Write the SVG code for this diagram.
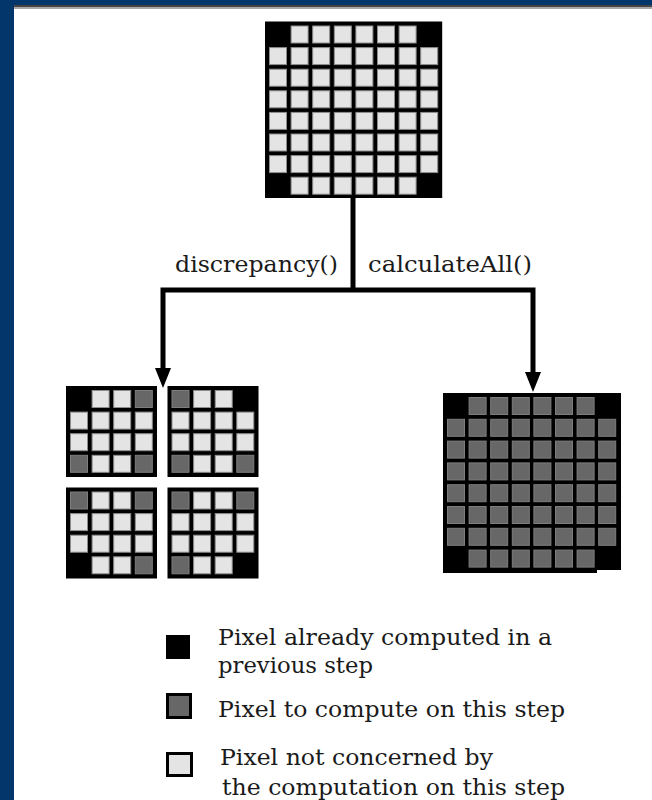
<svg xmlns="http://www.w3.org/2000/svg" xmlns:xlink="http://www.w3.org/1999/xlink" width="652" height="800" viewBox="0 0 652 800">
  <style>
    .lt { fill: #e4e4e4; stroke: #8c8c8c; stroke-width: 1; }
    .gy { fill: #676767; stroke: #7e7e7e; stroke-width: 1; }
    .bk { fill: #000; }
    .lbl { font-size: 23px; fill: #1a1a1a; }
    .wire { fill: none; stroke: #000; stroke-width: 5; stroke-linejoin: miter; }
  </style>
  <defs>
    <rect id="lc" x="0.5" y="0.5" width="17" height="17" class="lt"/>
    <rect id="gc" x="0.5" y="0.5" width="17" height="17" class="gy"/>
    <!-- full rows of eight cells, and edge rows without the corner cells -->
    <g id="lrow8">
      <use xlink:href="#lc" x="4"/><use xlink:href="#lc" x="25.6"/><use xlink:href="#lc" x="47.2"/><use xlink:href="#lc" x="68.8"/>
      <use xlink:href="#lc" x="90.4"/><use xlink:href="#lc" x="112"/><use xlink:href="#lc" x="133.6"/><use xlink:href="#lc" x="155.2"/>
    </g>
    <g id="lrow6">
      <use xlink:href="#lc" x="25.6"/><use xlink:href="#lc" x="47.2"/><use xlink:href="#lc" x="68.8"/>
      <use xlink:href="#lc" x="90.4"/><use xlink:href="#lc" x="112"/><use xlink:href="#lc" x="133.6"/>
    </g>
    <g id="grow8">
      <use xlink:href="#gc" x="4"/><use xlink:href="#gc" x="25.6"/><use xlink:href="#gc" x="47.2"/><use xlink:href="#gc" x="68.8"/>
      <use xlink:href="#gc" x="90.4"/><use xlink:href="#gc" x="112"/><use xlink:href="#gc" x="133.6"/><use xlink:href="#gc" x="155.2"/>
    </g>
    <g id="grow6">
      <use xlink:href="#gc" x="25.6"/><use xlink:href="#gc" x="47.2"/><use xlink:href="#gc" x="68.8"/>
      <use xlink:href="#gc" x="90.4"/><use xlink:href="#gc" x="112"/><use xlink:href="#gc" x="133.6"/>
    </g>
    <!-- middle rows of the 4x4 blocks -->
    <g id="lrow4">
      <use xlink:href="#lc" x="4"/><use xlink:href="#lc" x="25.6"/><use xlink:href="#lc" x="47.2"/><use xlink:href="#lc" x="68.8"/>
    </g>
    <marker id="head" markerUnits="userSpaceOnUse" markerWidth="20" markerHeight="16" refX="0" refY="8" orient="auto">
      <path d="M0,0 L20,8 L0,16 z" fill="#000"/>
    </marker>
  </defs>

  <!-- page frame -->
  <rect width="652" height="800" fill="#fff"/>
  <rect x="0" y="0" width="652" height="5" fill="#03366a"/>
  <rect x="14" y="5" width="638" height="2" fill="#444"/>
  <rect x="14" y="7" width="638" height="2" fill="#a8a8a8"/>
  <rect x="0" y="0" width="14" height="800" fill="#03366a"/>

  <!-- source image: 8x8 grid, corners already known -->
  <g id="grid-source" transform="translate(265,21.5)">
    <rect width="177.2" height="176.5" class="bk"/>
    <use xlink:href="#lrow6" y="4"/>
    <use xlink:href="#lrow8" y="25.6"/>
    <use xlink:href="#lrow8" y="47.2"/>
    <use xlink:href="#lrow8" y="68.8"/>
    <use xlink:href="#lrow8" y="90.4"/>
    <use xlink:href="#lrow8" y="112"/>
    <use xlink:href="#lrow8" y="133.6"/>
    <use xlink:href="#lrow6" y="155.2"/>
  </g>

  <!-- discrepancy(): four 4x4 blocks -->
  <g id="block-top-left" transform="translate(66,386)">
    <rect width="91" height="91" class="bk"/>
    <use xlink:href="#lc" x="25.6" y="4"/><use xlink:href="#lc" x="47.2" y="4"/><use xlink:href="#gc" x="68.8" y="4"/>
    <use xlink:href="#lrow4" y="25.6"/>
    <use xlink:href="#lrow4" y="47.2"/>
    <use xlink:href="#gc" x="4" y="68.8"/><use xlink:href="#lc" x="25.6" y="68.8"/><use xlink:href="#lc" x="47.2" y="68.8"/><use xlink:href="#gc" x="68.8" y="68.8"/>
  </g>
  <g id="block-top-right" transform="translate(167.5,386)">
    <rect width="91" height="91" class="bk"/>
    <use xlink:href="#gc" x="4" y="4"/><use xlink:href="#lc" x="25.6" y="4"/><use xlink:href="#lc" x="47.2" y="4"/>
    <use xlink:href="#lrow4" y="25.6"/>
    <use xlink:href="#lrow4" y="47.2"/>
    <use xlink:href="#gc" x="4" y="68.8"/><use xlink:href="#lc" x="25.6" y="68.8"/><use xlink:href="#lc" x="47.2" y="68.8"/><use xlink:href="#gc" x="68.8" y="68.8"/>
  </g>
  <g id="block-bottom-left" transform="translate(66,487.5)">
    <rect width="91" height="91" class="bk"/>
    <use xlink:href="#gc" x="4" y="4"/><use xlink:href="#lc" x="25.6" y="4"/><use xlink:href="#lc" x="47.2" y="4"/><use xlink:href="#gc" x="68.8" y="4"/>
    <use xlink:href="#lrow4" y="25.6"/>
    <use xlink:href="#lrow4" y="47.2"/>
    <use xlink:href="#lc" x="25.6" y="68.8"/><use xlink:href="#lc" x="47.2" y="68.8"/><use xlink:href="#gc" x="68.8" y="68.8"/>
  </g>
  <g id="block-bottom-right" transform="translate(167.5,487.5)">
    <rect width="91" height="91" class="bk"/>
    <use xlink:href="#gc" x="4" y="4"/><use xlink:href="#lc" x="25.6" y="4"/><use xlink:href="#lc" x="47.2" y="4"/><use xlink:href="#gc" x="68.8" y="4"/>
    <use xlink:href="#lrow4" y="25.6"/>
    <use xlink:href="#lrow4" y="47.2"/>
    <use xlink:href="#gc" x="4" y="68.8"/><use xlink:href="#lc" x="25.6" y="68.8"/><use xlink:href="#lc" x="47.2" y="68.8"/>
  </g>

  <!-- calculateAll(): every remaining pixel at once -->
  <g id="grid-all" transform="translate(443,393)">
    <polygon points="0,0 178,0 178,177 154,177 154,180 0,180" class="bk"/>
    <use xlink:href="#grow6" y="4"/>
    <use xlink:href="#grow8" y="25.8"/>
    <use xlink:href="#grow8" y="47.6"/>
    <use xlink:href="#grow8" y="69.4"/>
    <use xlink:href="#grow8" y="91.2"/>
    <use xlink:href="#grow8" y="113"/>
    <use xlink:href="#grow8" y="134.8"/>
    <use xlink:href="#grow6" y="156.6"/>
  </g>

  <!-- connectors -->
  <g id="connectors">
    <path class="wire" d="M353,197 V290"/>
    <path class="wire" d="M353,290 H163 V368" marker-end="url(#head)"/>
    <path class="wire" d="M353,290 H533 V372" marker-end="url(#head)"/>
  </g>

  <!-- labels and legend -->
  <g font-family="DejaVu Serif, Liberation Serif, serif">
    <g id="labels">
      <text class="lbl" x="175" y="272" textLength="163" lengthAdjust="spacingAndGlyphs">discrepancy()</text>
      <text class="lbl" x="368" y="272" textLength="164" lengthAdjust="spacingAndGlyphs">calculateAll()</text>
    </g>
    <g id="legend-computed">
      <rect x="166" y="635" width="24" height="24" fill="#000"/>
      <text class="lbl" x="218" y="645" textLength="334" lengthAdjust="spacingAndGlyphs">Pixel already computed in a</text>
      <text class="lbl" x="218" y="673" textLength="155" lengthAdjust="spacingAndGlyphs">previous step</text>
    </g>
    <g id="legend-compute">
      <rect x="167.5" y="694.5" width="23" height="23" fill="#676767" stroke="#000" stroke-width="3"/>
      <text class="lbl" x="218" y="717" textLength="347" lengthAdjust="spacingAndGlyphs">Pixel to compute on this step</text>
    </g>
    <g id="legend-unconcerned">
      <rect x="167.5" y="753.5" width="24" height="22" fill="#e4e4e4" stroke="#000" stroke-width="3"/>
      <text class="lbl" x="220" y="765" textLength="273" lengthAdjust="spacingAndGlyphs">Pixel not concerned by</text>
      <text class="lbl" x="222" y="795" textLength="343" lengthAdjust="spacingAndGlyphs">the computation on this step</text>
    </g>
  </g>
</svg>
